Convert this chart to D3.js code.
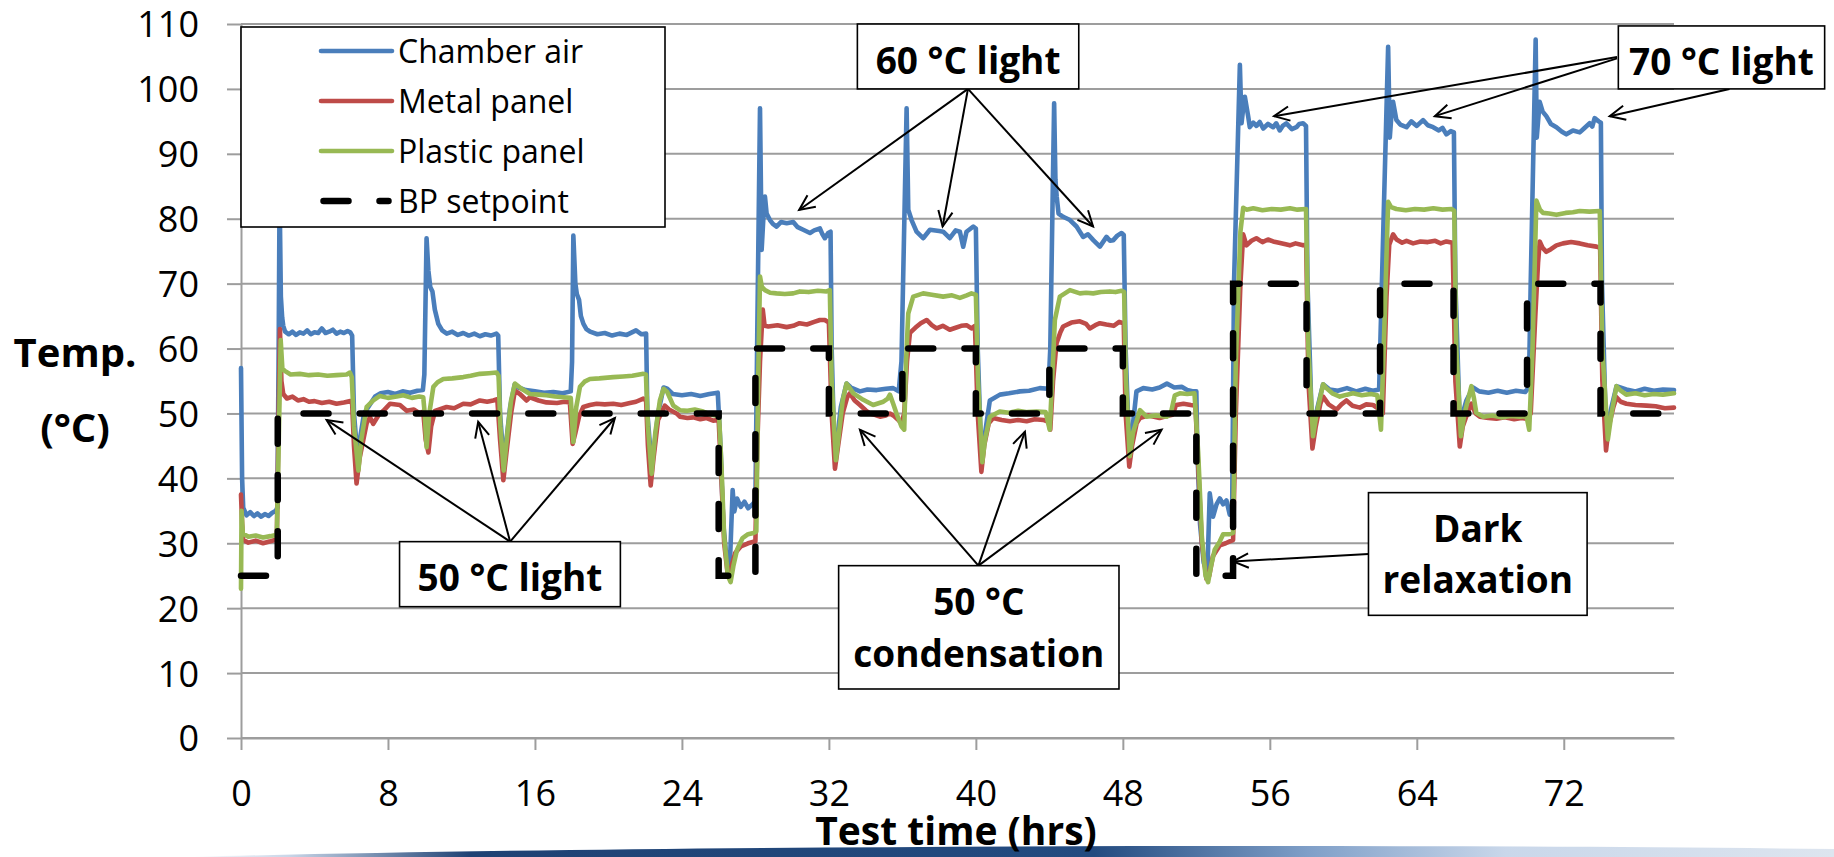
<!DOCTYPE html>
<html>
<head>
<meta charset="utf-8">
<script src="https://cdn.jsdelivr.net/npm/d3@7"></script>
<style>
  body { margin: 0; background: #fff; }
  svg { display: block; font-family: "Open Sans", sans-serif; }
</style>
</head>
<body>
<svg id="chart" width="1834" height="857"></svg>
<script>
'use strict';

// ---- data ----
const xTicks = [0, 8, 16, 24, 32, 40, 48, 56, 64, 72];
const yTicks = [0, 10, 20, 30, 40, 50, 60, 70, 80, 90, 100, 110];
const seriesNames = ["Chamber air", "Metal panel", "Plastic panel", "BP setpoint"];

// [hours, °C]
const chamberAir = [
  [0,57],[0.06,40],[0.12,35.5],[0.3,34.3],[0.5,34.8],[0.7,34.2],[0.9,34.6],[1.1,34.1],[1.3,34.5],[1.5,34.2],[1.7,34.7],[1.9,35],[1.98,35.5],
  [2.05,60],[2.1,84],[2.17,68],[2.24,64.8],[2.3,63.5],[2.4,62.6],[2.6,62.2],[2.8,62.6],[3.0,62.1],[3.2,62.5],[3.4,62.3],[3.6,62.8],[3.8,62.2],[4.0,62.5],[4.2,62.4],[4.4,63.1],[4.6,62.4],[4.8,62.6],[5.0,62.9],[5.2,62.3],[5.4,62.6],[5.6,62.4],[5.8,62.7],[5.95,62.5],[6.05,62],
  [6.15,50],[6.35,43],[6.5,46.5],[6.7,50],[7.0,51.3],[7.3,52.6],[7.6,53.1],[8.0,53.3],[8.4,53],[8.8,53.4],[9.2,53.2],[9.6,53.5],[9.9,53.6],
  [9.98,56],[10.1,77],[10.2,72],[10.3,69.5],[10.42,68.8],[10.55,66],[10.74,63.8],[10.95,62.8],[11.2,62.3],[11.5,62.6],[11.8,62.1],[12.1,62.4],[12.4,62],[12.7,62.3],[13.0,61.9],[13.3,62.2],[13.6,62],[13.9,62.3],[14.0,62],
  [14.1,50],[14.3,42.5],[14.45,46],[14.65,51],[14.9,54.5],[15.1,54],[15.5,53.6],[16.0,53.4],[16.5,53.2],[17.0,53.3],[17.5,53.1],[17.95,53.4],
  [18.02,58],[18.09,77.4],[18.2,70],[18.28,68.4],[18.4,67.5],[18.5,65],[18.64,63.8],[18.8,63],[19.0,62.6],[19.4,62.2],[19.8,62.4],[20.2,62],[20.6,62.3],[21.0,62.1],[21.5,62.8],[21.8,62.2],[22.05,62.3],
  [22.12,50],[22.35,42],[22.5,45],[22.7,50],[23.0,54],[23.2,53.8],[23.5,53],[24.0,52.8],[24.5,53],[25.0,52.7],[25.5,53],[25.95,53.2],
  [26.1,45],[26.25,33],[26.45,27],[26.6,26],[26.76,38.2],[26.85,34.9],[27.0,36.9],[27.2,35.6],[27.4,36.4],[27.6,35.4],[27.85,36],[28.0,36.5],
  [28.1,62],[28.25,97],[28.34,75.2],[28.45,81],[28.52,83.4],[28.61,80.8],[28.79,79.8],[28.95,79.2],[29.15,78.8],[29.4,79.5],[29.7,79.3],[30.06,79.5],[30.3,78.7],[30.6,78.3],[30.97,77.8],[31.2,78.2],[31.51,78.5],[31.65,77.6],[31.78,77],[31.96,77.8],[32.09,78],
  [32.15,60],[32.3,44],[32.45,46],[32.65,51],[32.96,54.6],[33.2,54],[33.69,53.4],[34.1,53.7],[34.6,53.6],[35.1,53.8],[35.5,53.9],[35.8,53.4],
  [35.95,58],[36.23,97],[36.32,81.4],[36.5,79.8],[36.77,78],[37.13,77],[37.5,78.3],[38.0,78.1],[38.22,78],[38.58,77],[38.9,78.2],[39.13,78],[39.31,75.7],[39.49,78],[39.86,78.8],[40.0,78.5],
  [40.1,60],[40.3,43],[40.45,46],[40.76,52],[41.31,52.9],[41.8,53.1],[42.4,53.4],[42.9,53.5],[43.48,53.9],[43.95,53.8],
  [44.05,60],[44.26,97.8],[44.33,86],[44.4,83.4],[44.5,80.8],[44.75,80.3],[45.12,79.8],[45.48,78.8],[45.84,77.2],[46.1,77.6],[46.39,76.7],[46.75,75.7],[47.11,77.2],[47.3,76.6],[47.48,76.7],[47.7,77.4],[47.93,77.8],[48.05,77.5],
  [48.15,60],[48.35,44],[48.5,47],[48.74,53.4],[49.11,53.9],[49.6,53.7],[50.0,54],[50.4,54.6],[50.8,54],[51.2,54.1],[51.5,53.6],[51.85,53.4],[52.0,53.4],
  [52.05,45],[52.2,33],[52.4,27],[52.6,25.5],[52.73,37.7],[52.91,34.1],[53.1,36],[53.28,36.9],[53.46,36],[53.64,36.6],[53.82,34.4],[53.95,35],
  [54.05,70],[54.37,103.7],[54.46,94.7],[54.55,97],[54.64,98.8],[54.82,95.8],[54.91,94.1],[55.1,94.8],[55.27,94.3],[55.45,94.9],[55.64,93.9],[55.9,94.6],[56.18,94.1],[56.35,94.7],[56.54,93.6],[56.7,94.3],[56.9,94.7],[57.2,93.8],[57.45,94.1],[57.6,94.6],[57.81,94.7],[57.97,94.3],
  [58.05,70],[58.3,47.5],[58.45,49],[58.6,51],[58.9,54.5],[59.26,53.7],[59.7,53.5],[60.2,53.9],[60.7,53.4],[61.2,53.8],[61.6,53.5],[61.95,53.7],
  [62.1,70],[62.44,106.5],[62.53,92.5],[62.62,96],[62.71,98],[62.89,95.2],[63.1,94.5],[63.44,94.1],[63.7,95],[64.0,94.3],[64.34,95.2],[64.6,94.4],[64.89,94.1],[65.2,93.6],[65.4,94],[65.61,93],[65.85,93.5],[66.02,93.3],
  [66.1,70],[66.35,47.5],[66.5,50],[66.7,52],[67.06,54],[67.4,53.4],[67.9,53.2],[68.4,53.5],[68.9,53.2],[69.4,53.5],[69.9,53.3],[70.1,54],
  [70.2,70],[70.47,107.6],[70.53,92.5],[70.6,95],[70.69,98],[70.85,96.5],[71.05,95.8],[71.3,94.6],[71.6,94.1],[71.9,93.4],[72.14,93],[72.5,93.6],[72.87,93.3],[73.1,93.9],[73.41,94.7],[73.55,94.2],[73.68,95.5],[73.9,95],[74.02,94.8],
  [74.08,70],[74.3,47],[74.45,49],[74.6,51],[74.87,54.2],[75.4,53.7],[75.9,53.4],[76.4,53.8],[76.9,53.5],[77.4,53.7],[78,53.6]
];

const metalPanel = [
  [0,37.5],[0.06,33],[0.12,30.5],[0.4,30.1],[0.8,30.4],[1.2,30],[1.6,30.3],[1.95,30.6],
  [2.05,50],[2.12,63],[2.2,55],[2.3,53],[2.5,52.3],[2.8,52.6],[3.1,52],[3.4,52.2],[3.7,51.8],[4.0,51.9],[4.4,51.6],[4.8,51.8],[5.2,51.5],[5.6,51.7],[5.95,51.9],[6.05,51.5],
  [6.15,45],[6.29,39.2],[6.45,43],[6.84,48.5],[7.02,49.4],[7.2,48.4],[7.5,49.8],[7.75,50.4],[8.11,51.5],[8.65,51.3],[9.02,50.4],[9.4,50.6],[9.74,50],[9.92,50.3],
  [10.05,46],[10.2,44],[10.35,48],[10.56,50.4],[11.19,51],[11.6,50.8],[12.1,51.5],[12.5,51.4],[13.0,52],[13.4,51.8],[13.73,52],[13.95,52.2],
  [14.1,46],[14.28,39.7],[14.45,44],[14.7,50],[14.91,53.5],[15.18,53],[15.55,52],[15.73,52.5],[16.2,52],[16.63,51.7],[17.2,51.6],[17.6,51.8],[17.9,51.7],
  [18.05,45.3],[18.2,47],[18.4,49.5],[18.63,51],[18.99,51.3],[19.36,51.5],[19.8,51.4],[20.26,51.5],[20.7,51.3],[21.17,51.6],[21.5,51.8],[21.9,52.3],[22.05,52],
  [22.15,45],[22.3,38.9],[22.45,43],[22.7,49],[23.07,51.2],[23.3,50.6],[23.71,50],[23.89,49.5],[24.3,49.3],[24.62,49.4],[25.0,49.1],[25.34,49.3],[25.7,48.9],[26.0,49],
  [26.15,40],[26.3,30],[26.5,25],[26.7,26.5],[26.9,28.5],[27.2,29.5],[27.6,30],[28.0,30.3],
  [28.1,45],[28.25,58],[28.4,66],[28.5,63.5],[28.7,63.4],[29.2,63.6],[29.7,63.3],[30.06,63.5],[30.4,63.9],[30.8,63.7],[31.2,64.1],[31.51,64.4],[31.78,64.4],[32.0,64],
  [32.15,50],[32.33,41.5],[32.5,45],[32.75,50],[33.0,52.5],[33.14,53.1],[33.4,52],[33.69,51.3],[34.0,50.5],[34.23,50],[34.5,49.8],[34.78,49.5],[35.1,49.7],[35.32,50],[35.55,49.6],[35.77,49],[35.95,48.5],
  [36.1,50],[36.25,58],[36.41,62.4],[36.7,63.2],[37.0,63.9],[37.32,64.4],[37.6,63.6],[37.86,63.1],[38.2,63.5],[38.58,62.9],[38.9,63.2],[39.2,63.5],[39.49,63.6],[39.76,63.1],[39.95,63.5],
  [40.1,50],[40.3,41],[40.45,45],[40.7,48.5],[40.94,49.3],[41.4,49],[41.85,48.8],[42.3,49],[42.76,48.8],[43.2,49.1],[43.67,49],[43.95,48.7],
  [44.05,47.5],[44.2,55],[44.39,60.8],[44.6,62.5],[44.75,63.4],[45.2,64],[45.66,64.2],[46.0,63.8],[46.2,63.1],[46.5,63.6],[46.75,63.9],[47.1,63.7],[47.5,63.5],[47.8,64.1],[48.05,63.9],
  [48.15,50],[48.35,41.8],[48.5,45],[48.75,48.5],[48.93,49.3],[49.4,49.7],[50.0,49.3],[50.4,49.6],[50.7,49.8],[50.9,51.3],[51.3,51.5],[51.7,51.3],[51.95,51.2],
  [52.1,42],[52.3,30],[52.55,24.5],[52.7,25],[52.9,28],[53.28,29.7],[53.6,30],[53.82,30.3],[54.0,30.5],
  [54.15,50],[54.4,70],[54.55,77.6],[54.73,75.9],[55.0,76.6],[55.27,77],[55.6,76.4],[55.9,76.8],[56.18,76.5],[56.5,76.3],[56.8,76.1],[57.09,75.9],[57.4,76.2],[57.81,75.9],[57.98,76],
  [58.1,55],[58.32,44.6],[58.5,48],[58.75,51.5],[58.9,52.6],[59.2,51.4],[59.63,50.6],[59.9,51.4],[60.17,52],[60.5,51.2],[60.9,50.9],[61.25,51.4],[61.62,51.3],[61.98,50.6],
  [62.15,50],[62.35,68],[62.5,76],[62.71,77.6],[62.9,76.8],[63.2,76.3],[63.44,76.6],[63.8,76.2],[64.2,76.5],[64.6,76.4],[65.0,76.6],[65.3,76.2],[65.61,76.5],[65.95,76.3],
  [66.1,55],[66.34,44.9],[66.5,48],[66.75,50],[66.97,51.5],[67.2,50],[67.43,49.5],[67.9,49.3],[68.34,49.2],[68.8,49.4],[69.3,49.1],[69.7,49.3],[69.97,49.2],
  [70.2,50],[70.45,65],[70.6,73.2],[70.69,76.5],[70.85,75.5],[71.05,74.9],[71.3,75.3],[71.6,75.9],[71.96,76.2],[72.4,76.4],[72.87,76.2],[73.3,75.9],[73.78,75.7],[73.98,75.5],
  [74.1,55],[74.3,44.3],[74.45,48],[74.7,51],[74.87,52.5],[75.1,51.8],[75.41,51.5],[75.9,51.3],[76.5,51.2],[77.0,51.1],[77.5,50.8],[78,50.9]
];

const plasticPanel = [
  [0,23],[0.03,35],[0.1,31.5],[0.4,31],[0.8,31.2],[1.2,30.9],[1.6,31.1],[1.95,31.3],
  [2.05,45],[2.16,61.3],[2.25,57],[2.36,56.6],[2.7,56],[3.2,56.1],[3.7,55.9],[4.2,56],[4.7,55.8],[5.2,55.9],[5.75,56],[5.93,56.3],[6.03,55.6],
  [6.15,48],[6.39,41.2],[6.55,46],[6.84,51],[7.2,52],[7.56,52.7],[8.0,52.4],[8.47,52.6],[8.83,52.8],[9.3,52.4],[9.7,52.6],[9.92,52.5],
  [10.0,50],[10.1,44.8],[10.25,50],[10.47,54.1],[10.7,54.8],[11.01,55.3],[11.5,55.4],[12.1,55.6],[12.5,55.8],[13.0,56.1],[13.5,56.2],[13.91,56.3],[14.02,55.8],
  [14.12,48],[14.3,41.2],[14.5,47],[14.7,52],[14.91,54.6],[15.27,53.8],[15.73,53],[16.2,52.9],[16.63,52.8],[17.1,52.6],[17.54,52.5],[17.95,52.4],
  [18.09,45.6],[18.25,51],[18.45,54.1],[18.7,54.9],[18.99,55.3],[19.5,55.4],[20.26,55.6],[20.8,55.7],[21.3,55.8],[21.9,56.1],[22.04,56],
  [22.15,48],[22.35,40.7],[22.55,47],[22.8,52],[23.0,53.8],[23.2,53.3],[23.53,51.2],[23.89,50.5],[24.3,50.4],[24.7,50.6],[25.16,50.3],[25.5,49.9],[25.8,49.7],[26.02,49.8],
  [26.15,42],[26.3,31],[26.5,25],[26.65,24],[26.8,26.5],[27.0,29],[27.3,30.8],[27.6,31.4],[27.9,31.6],[28.05,31.8],
  [28.15,55],[28.25,71.1],[28.35,69.5],[28.52,69],[28.8,68.6],[29.15,68.5],[29.6,68.4],[30.06,68.5],[30.42,68.8],[30.9,68.7],[31.4,68.9],[31.87,68.8],[32.05,69],
  [32.15,55],[32.38,42.8],[32.55,47],[32.75,52],[32.96,54.6],[33.33,53.1],[33.87,52.1],[34.41,51.3],[34.96,51.8],[35.2,52.3],[35.32,52.9],[35.5,51.5],[35.68,50],[35.95,48],[36.1,47.5],
  [36.2,58],[36.32,65.4],[36.59,68],[37.13,68.5],[37.6,68.3],[38.22,68],[38.7,68.2],[39.13,67.8],[39.5,68.2],[39.76,68.5],[40.0,68.3],
  [40.12,55],[40.35,42.5],[40.5,46],[40.76,49.5],[41.3,50.3],[41.8,50.1],[42.3,50.4],[42.8,50.2],[43.3,50.3],[43.8,50.2],[44.02,47.5],
  [44.15,55],[44.3,64.4],[44.57,68],[45.12,69],[45.66,68.5],[46.0,68.6],[46.39,68.5],[46.8,68.7],[47.29,68.8],[47.6,68.7],[47.93,68.9],[48.07,68.7],
  [48.17,55],[48.38,43.4],[48.55,47],[48.93,50.5],[49.29,49.5],[49.8,49.7],[50.38,49.5],[50.6,49.9],[50.83,52.8],[51.1,53.1],[51.5,53],[51.9,53.1],
  [52.1,44],[52.3,31],[52.5,25],[52.64,24],[52.8,26.5],[53.0,29],[53.28,30.3],[53.46,31.4],[53.8,31.4],[54.0,31.6],
  [54.15,58],[54.4,78],[54.55,81.7],[54.73,81.4],[55.1,81.6],[55.6,81.3],[56.1,81.5],[56.6,81.4],[57.1,81.6],[57.5,81.4],[57.97,81.5],
  [58.1,60],[58.35,46.5],[58.55,50],[58.9,54.5],[59.08,53.9],[59.4,53.1],[59.81,52.6],[60.2,52.9],[60.53,53.1],[61.0,52.8],[61.5,53],[61.85,52.8],[62.05,47.5],
  [62.2,60],[62.44,82.6],[62.6,81.8],[62.89,81.5],[63.4,81.3],[63.9,81.5],[64.4,81.4],[64.9,81.6],[65.4,81.4],[65.9,81.5],[66.04,81.2],
  [66.15,60],[66.4,46.5],[66.6,50],[66.97,54.2],[67.1,52.5],[67.24,50.1],[67.61,49.5],[68.1,49.7],[68.6,49.4],[69.1,49.6],[69.6,49.5],[69.97,49.6],[70.12,47.5],
  [70.3,60],[70.51,82.8],[70.7,81.4],[70.87,80.9],[71.2,80.8],[71.6,80.6],[72.1,80.9],[72.5,81],[72.87,81.2],[73.4,81.1],[73.96,81.2],
  [74.1,60],[74.4,46],[74.6,50],[74.87,54.2],[75.1,53.5],[75.4,52.9],[75.9,53.1],[76.4,52.8],[76.9,53],[77.4,52.9],[78,53.1]
];

const setpointHours  = [0, 2, 26, 28, 32, 36, 40, 44, 48, 52, 54, 58, 62, 66, 70, 74, 78];
const setpointValues = [25, 50, 25, 60, 50, 60, 50, 60, 50, 25, 70, 50, 70, 50, 70, 50, 50];

// callout boxes, in chart units (hours / °C)
const callouts = [
  { lines: ["60 °C light"], box: [33.55, 45.6, 100, 110], base: [102.3],
    arrows: [[39.57, 100, 30.38, 81.35], [39.57, 100, 38.19, 78.8], [39.57, 100, 46.38, 78.8]] },
  { lines: ["70 °C light"], box: [74.97, 86.2, 100, 109.7], base: [102.2],
    arrows: [[74.9, 104.9, 56.23, 95.8], [74.9, 104.7, 64.98, 95.8], [81.02, 100, 74.5, 95.8]] },
  { lines: ["50 °C light"], box: [8.63, 20.65, 20.23, 30.25], base: [22.7],
    arrows: [[14.65, 30.25, 4.66, 49], [14.65, 30.25, 12.91, 48.7], [14.65, 30.25, 20.35, 49.3]] },
  { lines: ["50 °C", "condensation"], box: [32.53, 47.79, 7.55, 26.55], base: [18.95, 10.99],
    arrows: [[40.14, 26.55, 33.69, 47.5], [40.14, 26.55, 42.67, 47.2], [40.14, 26.55, 50.11, 47.5]] },
  { lines: ["Dark", "relaxation"], box: [61.37, 73.27, 18.9, 37.8], base: [30.25, 22.3],
    arrows: [[61.37, 28.35, 54.0, 27.2]] }
];

// ---- drawing ----
const svg = d3.select("#chart");
const x = d3.scaleLinear().domain([0, 78]).range([241, 1674]);
const y = d3.scaleLinear().domain([0, 110]).range([738, 24]);
const gridColor = "#9d9d9d";

// blue swoosh at the bottom of the slide
const grad = svg.append("defs").append("linearGradient")
  .attr("id", "swoosh").attr("x1", "0%").attr("x2", "100%");
[["0%", "#ffffff"], ["6%", "#c9d6e8"], ["17%", "#1f4274"], ["55%", "#234b80"],
 ["68%", "#7f9fc8"], ["80%", "#c9d7ea"], ["100%", "#dde5ef"]].forEach(s => {
  grad.append("stop").attr("offset", s[0]).attr("stop-color", s[1]);
});
svg.append("path")
  .attr("d", "M190,857 C600,846 1300,843 1834,849 L1834,857 Z")
  .attr("fill", "url(#swoosh)");

// gridlines
svg.append("g").selectAll("line")
  .data(yTicks)
  .join("line")
    .attr("x1", x(0)).attr("x2", x(78))
    .attr("y1", d => y(d)).attr("y2", d => y(d))
    .attr("stroke", gridColor).attr("stroke-width", 2);

// axes
const gy = svg.append("g")
  .attr("transform", `translate(${x(0)},0)`)
  .call(d3.axisLeft(y).tickValues(yTicks).tickSize(14).tickPadding(28).tickSizeOuter(0));
const gx = svg.append("g")
  .attr("transform", `translate(0,${y(0)})`)
  .call(d3.axisBottom(x).tickValues(xTicks).tickSize(12).tickSizeOuter(0));

[gy, gx].forEach(g => {
  g.attr("font-family", null).attr("font-size", null);
  g.selectAll("line, path").attr("stroke", gridColor).attr("stroke-width", 2);
  g.selectAll("text").attr("font-size", 36).attr("fill", "#000");
});
gy.selectAll("text").attr("dy", "0.36em");
gx.selectAll("text").attr("dy", null).attr("y", 68);

// axis titles
svg.append("text").attr("x", 75).attr("y", 367).attr("text-anchor", "middle")
  .attr("font-size", 40).attr("font-weight", "bold").text("Temp.");
svg.append("text").attr("x", 75).attr("y", 442).attr("text-anchor", "middle")
  .attr("font-size", 40).attr("font-weight", "bold").text("(°C)");
svg.append("text").attr("x", 956).attr("y", 845).attr("text-anchor", "middle")
  .attr("font-size", 39).attr("font-weight", "bold").text("Test time (hrs)");

// series
const line = d3.line().x(d => x(d[0])).y(d => y(d[1]));
const series = [
  { data: chamberAir, color: "#4a7ebb" },
  { data: metalPanel, color: "#be4b48" },
  { data: plasticPanel, color: "#98b954" }
];
svg.append("g").selectAll("path")
  .data(series)
  .join("path")
    .attr("d", d => line(d.data))
    .attr("fill", "none")
    .attr("stroke", d => d.color)
    .attr("stroke-width", 4.6)
    .attr("stroke-linejoin", "round")
    .attr("stroke-linecap", "round");

const setpoint = setpointHours.map((h, i) => [h, setpointValues[i]]);
svg.append("path")
  .attr("d", line.curve(d3.curveStepAfter)(setpoint))
  .attr("fill", "none")
  .attr("stroke", "#000")
  .attr("stroke-width", 6.5)
  .attr("stroke-dasharray", "25,31.2")
  .attr("stroke-linecap", "round");
line.curve(d3.curveLinear);

// callouts
const headLen = 17, headAng = 25 * Math.PI / 180;
callouts.forEach(c => {
  const g = svg.append("g");
  c.arrows.forEach(a => {
    const x1 = x(a[0]), y1 = y(a[1]), x2 = x(a[2]), y2 = y(a[3]);
    const ang = Math.atan2(y1 - y2, x1 - x2);
    g.append("line")
      .attr("x1", x1).attr("y1", y1).attr("x2", x2).attr("y2", y2)
      .attr("stroke", "#000").attr("stroke-width", 2);
    g.append("polyline")
      .attr("points", [
        [x2 + headLen * Math.cos(ang + headAng), y2 + headLen * Math.sin(ang + headAng)],
        [x2, y2],
        [x2 + headLen * Math.cos(ang - headAng), y2 + headLen * Math.sin(ang - headAng)]
      ].map(p => p.join(",")).join(" "))
      .attr("fill", "none").attr("stroke", "#000").attr("stroke-width", 2);
  });
  g.append("rect")
    .attr("x", x(c.box[0])).attr("y", y(c.box[3]))
    .attr("width", x(c.box[1]) - x(c.box[0]))
    .attr("height", y(c.box[2]) - y(c.box[3]))
    .attr("fill", "#fff").attr("stroke", "#000").attr("stroke-width", 1.6);
  c.lines.forEach((t, i) => {
    g.append("text")
      .attr("x", (x(c.box[0]) + x(c.box[1])) / 2)
      .attr("y", y(c.base[i]))
      .attr("text-anchor", "middle")
      .attr("font-size", 37).attr("font-weight", "bold")
      .text(t);
  });
});

// legend
const legend = svg.append("g").attr("transform", `translate(${x(0)},27)`);
legend.append("rect").attr("width", 424).attr("height", 200)
  .attr("fill", "#fff").attr("stroke", "#000").attr("stroke-width", 1.6);
const legendItems = legend.selectAll("g.item")
  .data(seriesNames)
  .join("g").attr("class", "item")
  .attr("transform", (d, i) => `translate(0,${24 + i * 50})`);
legendItems.append("line")
  .attr("x1", (d, i) => i === 3 ? 82.5 : 80)
  .attr("x2", (d, i) => i === 3 ? 147.5 : 151)
  .attr("stroke", (d, i) => i < 3 ? series[i].color : "#000")
  .attr("stroke-width", (d, i) => i < 3 ? 4.6 : 6.5)
  .attr("stroke-dasharray", (d, i) => i === 3 ? "25,31" : null)
  .attr("stroke-linecap", "round");
legendItems.append("text")
  .attr("x", 157).attr("dy", "0.36em")
  .attr("font-size", 32)
  .text(d => d);
</script>
</body>
</html>
